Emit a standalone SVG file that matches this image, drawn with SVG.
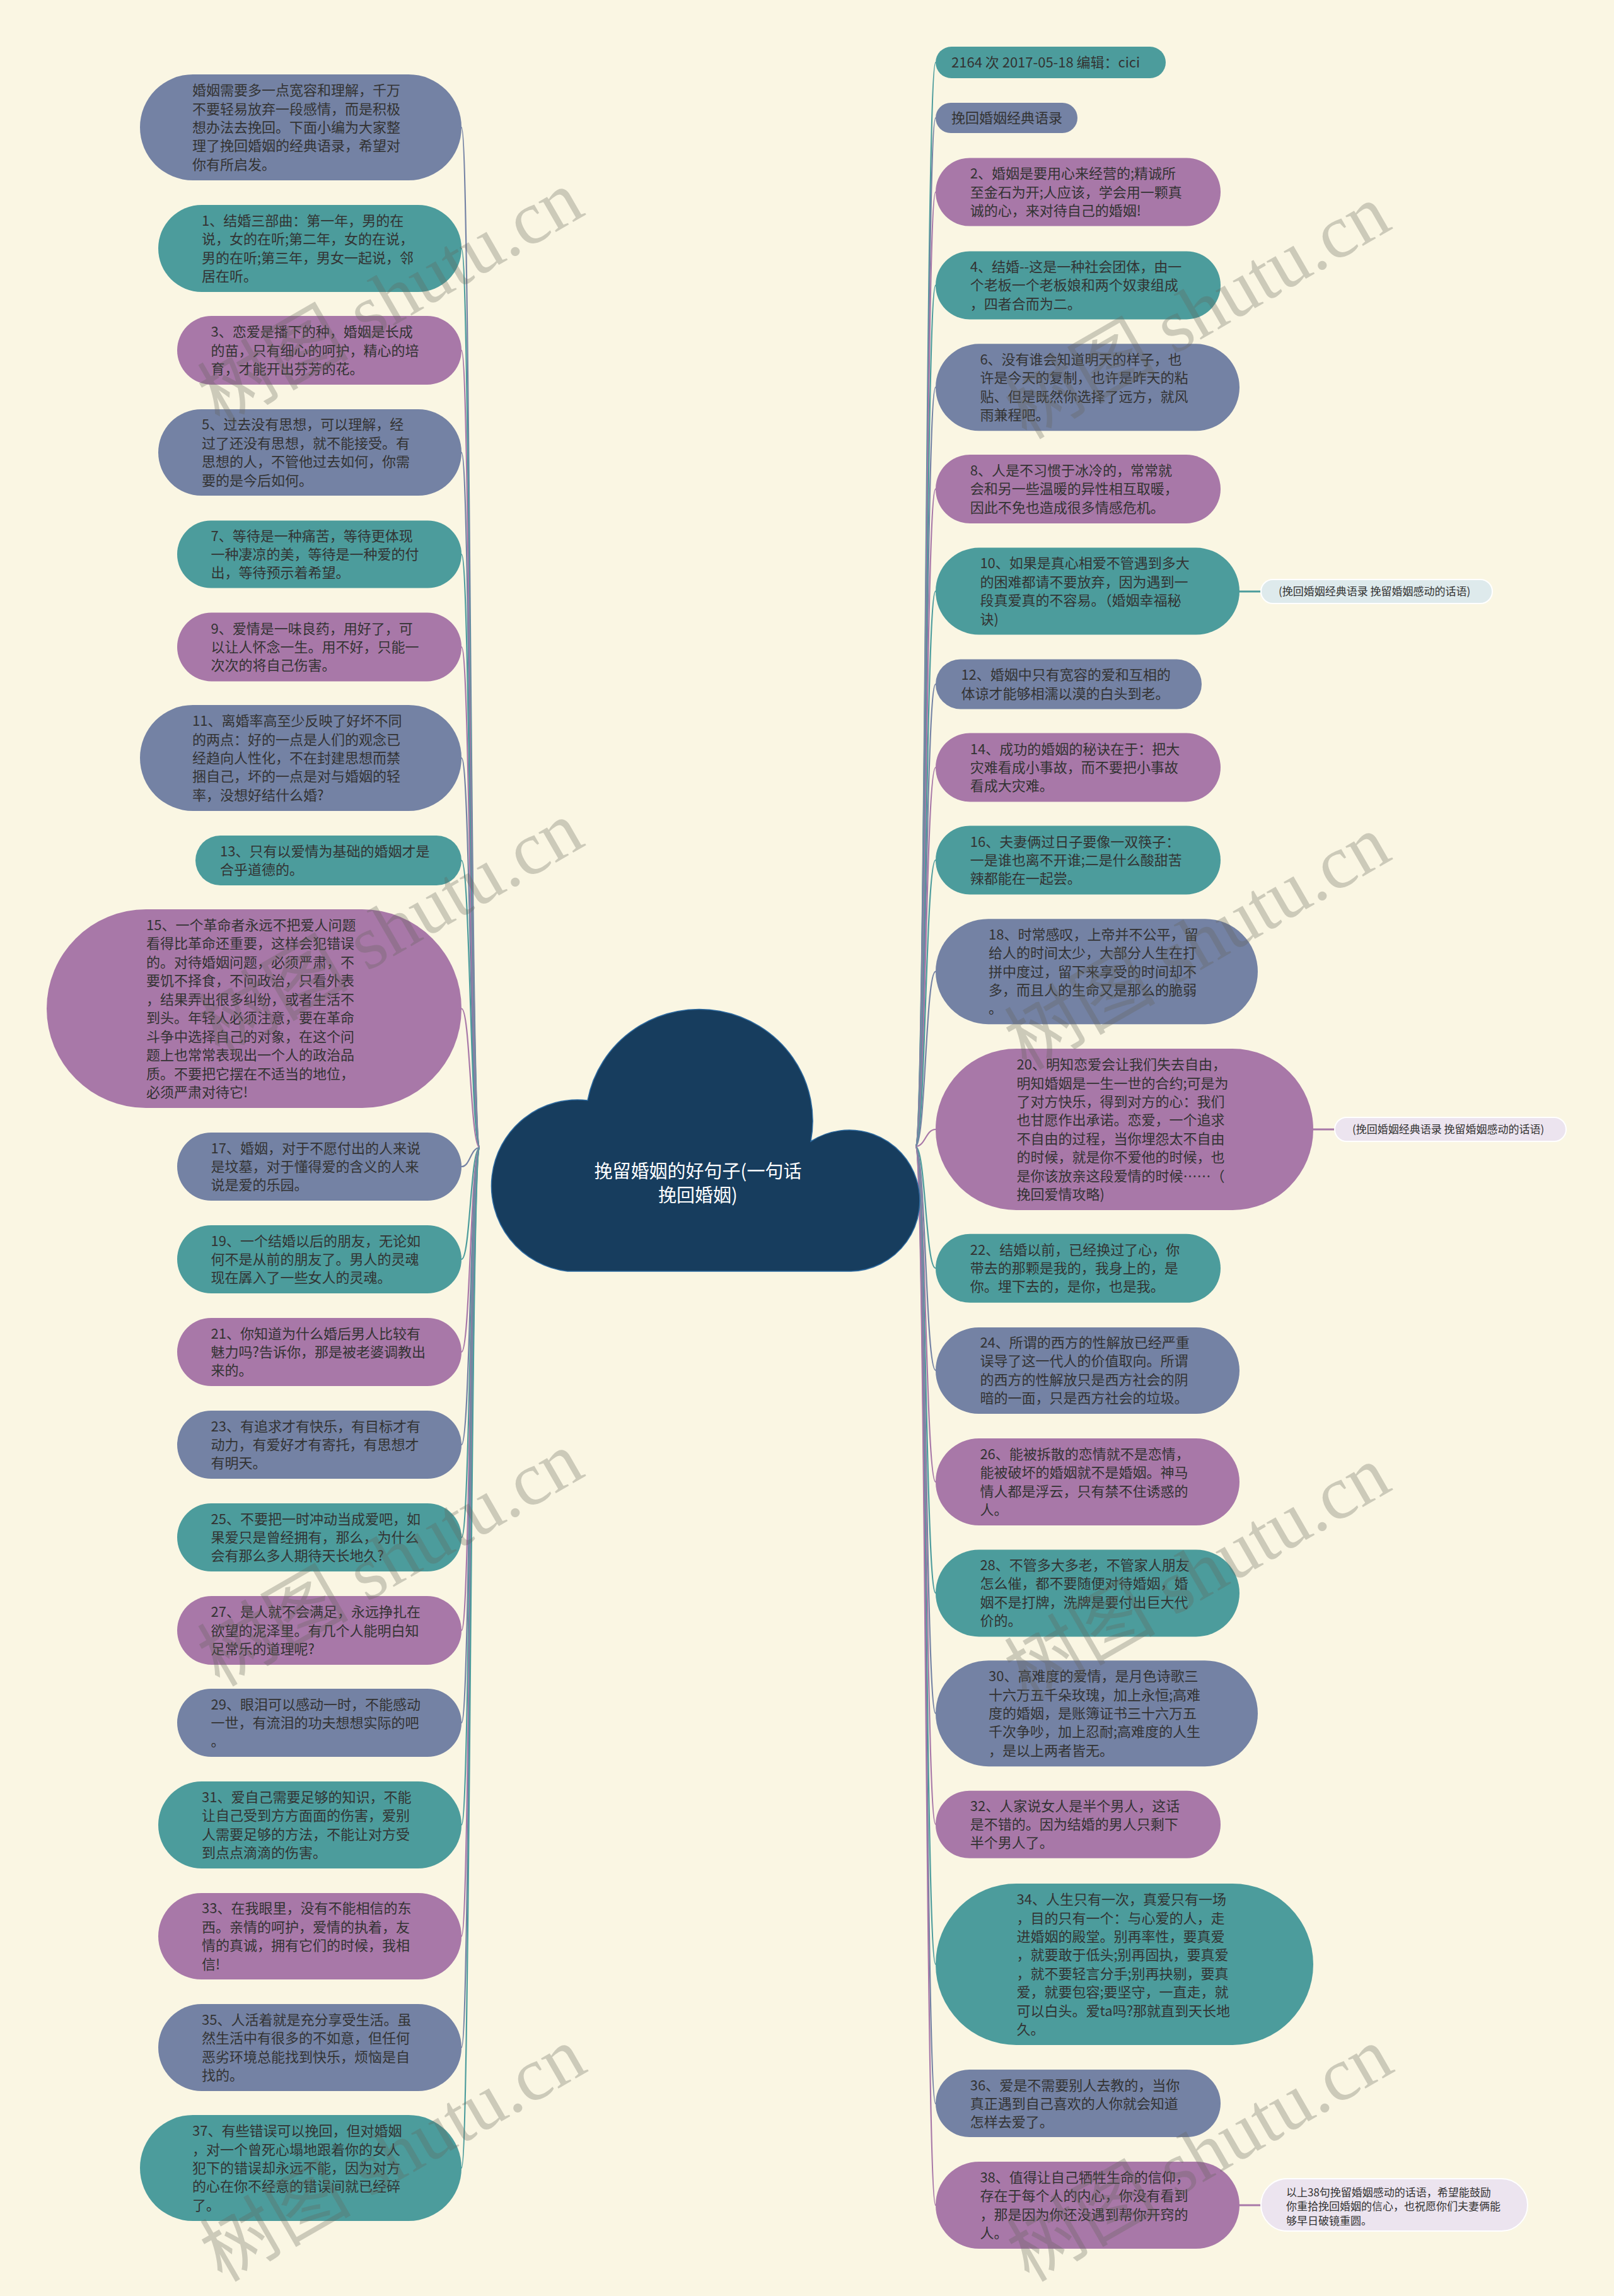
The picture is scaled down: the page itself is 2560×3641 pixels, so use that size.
<svg xmlns="http://www.w3.org/2000/svg" width="2560" height="3641" viewBox="0 0 2560 3641">
<style>
.bg{fill:#faf6e3}
.s{fill:#7482a4}
.t{fill:#4c9c9c}
.p{fill:#a878a8}
.cs{stroke:#7482a4}
.ct{stroke:#4c9c9c}
.cp{stroke:#a878a8}
.conn path{fill:none;stroke-width:2.2}
.conn line{stroke-width:3}
text{font-family:"Noto Sans CJK SC","Liberation Sans",sans-serif}
.tx{font-size:22px;fill:#333333}
.lb{font-size:17px;fill:#333333}
.ttl{font-size:29px;fill:#ffffff;text-anchor:middle}
.wm text{font-family:"Liberation Serif","Noto Sans CJK SC",serif;font-size:120px;fill:rgba(100,100,90,0.3)}
.lab1{fill:#deeaec;stroke:#ffffff;stroke-width:2}
.lab2{fill:#ece4ef;stroke:#ffffff;stroke-width:2}
</style>
<rect class="bg" x="0" y="0" width="2560" height="3641"/>

<g id="connectors" class="conn">
<path class="cs" d="M761 1820 C746 1820 746 202 732 202"/>
<path class="ct" d="M761 1820 C746 1820 746 394 732 394"/>
<path class="cp" d="M761 1820 C746 1820 746 555.5 732 555.5"/>
<path class="cs" d="M761 1820 C746 1820 746 717.5 732 717.5"/>
<path class="ct" d="M761 1820 C746 1820 746 879 732 879"/>
<path class="cp" d="M761 1820 C746 1820 746 1026 732 1026"/>
<path class="cs" d="M761 1820 C746 1820 746 1202 732 1202"/>
<path class="ct" d="M761 1820 C746 1820 746 1364.5 732 1364.5"/>
<path class="cp" d="M761 1820 C746 1820 746 1599.5 732 1599.5"/>
<path class="cs" d="M761 1820 C746 1820 746 1850 732 1850"/>
<path class="ct" d="M761 1820 C746 1820 746 1997 732 1997"/>
<path class="cp" d="M761 1820 C746 1820 746 2144 732 2144"/>
<path class="cs" d="M761 1820 C746 1820 746 2291 732 2291"/>
<path class="ct" d="M761 1820 C746 1820 746 2438 732 2438"/>
<path class="cp" d="M761 1820 C746 1820 746 2585.5 732 2585.5"/>
<path class="cs" d="M761 1820 C746 1820 746 2732 732 2732"/>
<path class="ct" d="M761 1820 C746 1820 746 2894 732 2894"/>
<path class="cp" d="M761 1820 C746 1820 746 3070.5 732 3070.5"/>
<path class="cs" d="M761 1820 C746 1820 746 3247 732 3247"/>
<path class="ct" d="M761 1820 C746 1820 746 3438 732 3438"/>

<path class="ct" d="M1452 1818 C1468 1818 1468 99 1484 99"/>
<path class="cs" d="M1452 1818 C1468 1818 1468 187 1484 187"/>
<path class="cp" d="M1452 1818 C1468 1818 1468 304.5 1484 304.5"/>
<path class="ct" d="M1452 1818 C1468 1818 1468 452.4 1484 452.4"/>
<path class="cs" d="M1452 1818 C1468 1818 1468 614 1484 614"/>
<path class="cp" d="M1452 1818 C1468 1818 1468 775.3 1484 775.3"/>
<path class="ct" d="M1452 1818 C1468 1818 1468 937.5 1484 937.5"/>
<path class="cs" d="M1452 1818 C1468 1818 1468 1085 1484 1085"/>
<path class="cp" d="M1452 1818 C1468 1818 1468 1217 1484 1217"/>
<path class="ct" d="M1452 1818 C1468 1818 1468 1364 1484 1364"/>
<path class="cs" d="M1452 1818 C1468 1818 1468 1540.6 1484 1540.6"/>
<path class="cp" d="M1452 1818 C1468 1818 1468 1791 1484 1791"/>
<path class="ct" d="M1452 1818 C1468 1818 1468 2011 1484 2011"/>
<path class="cs" d="M1452 1818 C1468 1818 1468 2173 1484 2173"/>
<path class="cp" d="M1452 1818 C1468 1818 1468 2350 1484 2350"/>
<path class="ct" d="M1452 1818 C1468 1818 1468 2526 1484 2526"/>
<path class="cs" d="M1452 1818 C1468 1818 1468 2717 1484 2717"/>
<path class="cp" d="M1452 1818 C1468 1818 1468 2893 1484 2893"/>
<path class="ct" d="M1452 1818 C1468 1818 1468 3115 1484 3115"/>
<path class="cs" d="M1452 1818 C1468 1818 1468 3336 1484 3336"/>
<path class="cp" d="M1452 1818 C1468 1818 1468 3497 1484 3497"/>

<line class="ct" x1="1965" y1="938" x2="2001" y2="938"/>
<line class="cp" x1="2082" y1="1791" x2="2118" y2="1791"/>
<line class="cp" x1="1965" y1="3497" x2="2001" y2="3497"/>
</g>

<g id="center">
<path d="M900 2016 A136 136 0 1 1 932 1745 A178 175 0 0 1 1286 1810 A112 112 0 1 1 1350 2016 Z" fill="#173d5e" stroke="#2d6aa0" stroke-width="1.5"/>
<text class="ttl"><tspan x="1107" y="1868">挽留婚姻的好句子(一句话</tspan><tspan x="1107" y="1906">挽回婚姻)</tspan></text>
</g>

<g id="n0"><rect class="s" x="222" y="118" width="510" height="168" rx="84"/>
<text class="tx"><tspan x="305" y="151">婚姻需要多一点宽容和理解，千万</tspan><tspan x="305" y="181">不要轻易放弃一段感情，而是积极</tspan><tspan x="305" y="210">想办法去挽回。下面小编为大家整</tspan><tspan x="305" y="239">理了挽回婚姻的经典语录，希望对</tspan><tspan x="305" y="269">你有所启发。</tspan></text></g>

<g id="n1"><rect class="t" x="251" y="325" width="481" height="138" rx="69"/>
<text class="tx"><tspan x="320" y="358">1、结婚三部曲：第一年，男的在</tspan><tspan x="320" y="387">说，女的在听;第二年，女的在说，</tspan><tspan x="320" y="417">男的在听;第三年，男女一起说，邻</tspan><tspan x="320" y="446">居在听。</tspan></text></g>

<g id="n3"><rect class="p" x="281" y="501" width="451" height="109" rx="54.5"/>
<text class="tx"><tspan x="334.5" y="534">3、恋爱是播下的种，婚姻是长成</tspan><tspan x="334.5" y="564">的苗，只有细心的呵护，精心的培</tspan><tspan x="334.5" y="593">育，才能开出芬芳的花。</tspan></text></g>

<g id="n5"><rect class="s" x="251" y="649" width="481" height="137" rx="68.5"/>
<text class="tx"><tspan x="320" y="681">5、过去没有思想，可以理解，经</tspan><tspan x="320" y="711">过了还没有思想，就不能接受。有</tspan><tspan x="320" y="740">思想的人，不管他过去如何，你需</tspan><tspan x="320" y="770">要的是今后如何。</tspan></text></g>

<g id="n7"><rect class="t" x="281" y="825.5" width="451" height="107" rx="53.5"/>
<text class="tx"><tspan x="334.5" y="858">7、等待是一种痛苦，等待更体现</tspan><tspan x="334.5" y="887">一种凄凉的美，等待是一种爱的付</tspan><tspan x="334.5" y="916">出，等待预示着希望。</tspan></text></g>

<g id="n9"><rect class="p" x="281" y="971.5" width="451" height="109" rx="54.5"/>
<text class="tx"><tspan x="334.5" y="1005">9、爱情是一味良药，用好了，可</tspan><tspan x="334.5" y="1034">以让人怀念一生。用不好，只能一</tspan><tspan x="334.5" y="1063">次次的将自己伤害。</tspan></text></g>

<g id="n11"><rect class="s" x="222" y="1118" width="510" height="168" rx="84"/>
<text class="tx"><tspan x="305" y="1151">11、离婚率高至少反映了好坏不同</tspan><tspan x="305" y="1181">的两点：好的一点是人们的观念已</tspan><tspan x="305" y="1210">经趋向人性化，不在封建思想而禁</tspan><tspan x="305" y="1239">捆自己，坏的一点是对与婚姻的轻</tspan><tspan x="305" y="1269">率，没想好结什么婚?</tspan></text></g>

<g id="n13"><rect class="t" x="310" y="1325" width="422" height="79" rx="39.5"/>
<text class="tx"><tspan x="349" y="1358">13、只有以爱情为基础的婚姻才是</tspan><tspan x="349" y="1387">合乎道德的。</tspan></text></g>

<g id="n15"><rect class="p" x="74" y="1442" width="658" height="315" rx="157.5"/>
<text class="tx"><tspan x="232" y="1475">15、一个革命者永远不把爱人问题</tspan><tspan x="232" y="1504">看得比革命还重要，这样会犯错误</tspan><tspan x="232" y="1534">的。对待婚姻问题，必须严肃，不</tspan><tspan x="232" y="1563">要饥不择食，不问政治，只看外表</tspan><tspan x="232" y="1593">，结果弄出很多纠纷，或者生活不</tspan><tspan x="232" y="1622">到头。年轻人必须注意，要在革命</tspan><tspan x="232" y="1652">斗争中选择自己的对象，在这个问</tspan><tspan x="232" y="1681">题上也常常表现出一个人的政治品</tspan><tspan x="232" y="1711">质。不要把它摆在不适当的地位，</tspan><tspan x="232" y="1740">必须严肃对待它!</tspan></text></g>

<g id="n17"><rect class="s" x="281" y="1796" width="451" height="108" rx="54"/>
<text class="tx"><tspan x="334.5" y="1829">17、婚姻，对于不愿付出的人来说</tspan><tspan x="334.5" y="1858">是坟墓，对于懂得爱的含义的人来</tspan><tspan x="334.5" y="1887">说是爱的乐园。</tspan></text></g>

<g id="n19"><rect class="t" x="281" y="1943" width="451" height="108" rx="54"/>
<text class="tx"><tspan x="334.5" y="1976">19、一个结婚以后的朋友，无论如</tspan><tspan x="334.5" y="2005">何不是从前的朋友了。男人的灵魂</tspan><tspan x="334.5" y="2034">现在羼入了一些女人的灵魂。</tspan></text></g>

<g id="n21"><rect class="p" x="281" y="2090" width="451" height="108" rx="54"/>
<text class="tx"><tspan x="334.5" y="2123">21、你知道为什么婚后男人比较有</tspan><tspan x="334.5" y="2152">魅力吗?告诉你，那是被老婆调教出</tspan><tspan x="334.5" y="2181">来的。</tspan></text></g>

<g id="n23"><rect class="s" x="281" y="2237" width="451" height="108" rx="54"/>
<text class="tx"><tspan x="334.5" y="2270">23、有追求才有快乐，有目标才有</tspan><tspan x="334.5" y="2299">动力，有爱好才有寄托，有思想才</tspan><tspan x="334.5" y="2328">有明天。</tspan></text></g>

<g id="n25"><rect class="t" x="281" y="2384" width="451" height="108" rx="54"/>
<text class="tx"><tspan x="334.5" y="2417">25、不要把一时冲动当成爱吧，如</tspan><tspan x="334.5" y="2446">果爱只是曾经拥有，那么，为什么</tspan><tspan x="334.5" y="2475">会有那么多人期待天长地久?</tspan></text></g>

<g id="n27"><rect class="p" x="281" y="2531" width="451" height="109" rx="54.5"/>
<text class="tx"><tspan x="334.5" y="2564">27、是人就不会满足，永远挣扎在</tspan><tspan x="334.5" y="2594">欲望的泥泽里。有几个人能明白知</tspan><tspan x="334.5" y="2623">足常乐的道理呢?</tspan></text></g>

<g id="n29"><rect class="s" x="281" y="2678" width="451" height="108" rx="54"/>
<text class="tx"><tspan x="334.5" y="2711">29、眼泪可以感动一时，不能感动</tspan><tspan x="334.5" y="2740">一世，有流泪的功夫想想实际的吧</tspan><tspan x="334.5" y="2769">。</tspan></text></g>

<g id="n31"><rect class="t" x="251" y="2825" width="481" height="138" rx="69"/>
<text class="tx"><tspan x="320" y="2858">31、爱自己需要足够的知识，不能</tspan><tspan x="320" y="2887">让自己受到方方面面的伤害，爱别</tspan><tspan x="320" y="2917">人需要足够的方法，不能让对方受</tspan><tspan x="320" y="2946">到点点滴滴的伤害。</tspan></text></g>

<g id="n33"><rect class="p" x="251" y="3002" width="481" height="137" rx="68.5"/>
<text class="tx"><tspan x="320" y="3034">33、在我眼里，没有不能相信的东</tspan><tspan x="320" y="3064">西。亲情的呵护，爱情的执着，友</tspan><tspan x="320" y="3093">情的真诚，拥有它们的时候，我相</tspan><tspan x="320" y="3123">信!</tspan></text></g>

<g id="n35"><rect class="s" x="251" y="3178" width="481" height="138" rx="69"/>
<text class="tx"><tspan x="320" y="3211">35、人活着就是充分享受生活。虽</tspan><tspan x="320" y="3240">然生活中有很多的不如意，但任何</tspan><tspan x="320" y="3270">恶劣环境总能找到快乐，烦恼是自</tspan><tspan x="320" y="3299">找的。</tspan></text></g>

<g id="n37"><rect class="t" x="222" y="3354" width="510" height="168" rx="84"/>
<text class="tx"><tspan x="305" y="3387">37、有些错误可以挽回，但对婚姻</tspan><tspan x="305" y="3417">，对一个曾死心塌地跟着你的女人</tspan><tspan x="305" y="3446">犯下的错误却永远不能，因为对方</tspan><tspan x="305" y="3475">的心在你不经意的错误间就已经碎</tspan><tspan x="305" y="3505">了。</tspan></text></g>

<g id="meta"><rect class="t" x="1484" y="74" width="365" height="50" rx="25"/>
<text class="tx" x="1509" y="107">2164 次 2017-05-18 编辑：cici</text></g>

<g id="title"><rect class="s" x="1484" y="163" width="225" height="48" rx="24"/>
<text class="tx" x="1509" y="195">挽回婚姻经典语录</text></g>

<g id="n2"><rect class="p" x="1484" y="250.5" width="452" height="108" rx="54"/>
<text class="tx"><tspan x="1538.75" y="283">2、婚姻是要用心来经营的;精诚所</tspan><tspan x="1538.75" y="313">至金石为开;人应该，学会用一颗真</tspan><tspan x="1538.75" y="342">诚的心，来对待自己的婚姻!</tspan></text></g>

<g id="n4"><rect class="t" x="1484" y="398.4" width="452" height="108" rx="54"/>
<text class="tx"><tspan x="1538.75" y="431">4、结婚--这是一种社会团体，由一</tspan><tspan x="1538.75" y="460">个老板一个老板娘和两个奴隶组成</tspan><tspan x="1538.75" y="490">，四者合而为二。</tspan></text></g>

<g id="n6"><rect class="s" x="1484" y="545.3" width="482" height="138" rx="69"/>
<text class="tx"><tspan x="1554.4" y="578">6、没有谁会知道明天的样子，也</tspan><tspan x="1554.4" y="607">许是今天的复制，也许是昨天的粘</tspan><tspan x="1554.4" y="637">贴、但是既然你选择了远方，就风</tspan><tspan x="1554.4" y="666">雨兼程吧。</tspan></text></g>

<g id="n8"><rect class="p" x="1484" y="721" width="452" height="109" rx="54.5"/>
<text class="tx"><tspan x="1538.75" y="754">8、人是不习惯于冰冷的，常常就</tspan><tspan x="1538.75" y="783">会和另一些温暖的异性相互取暖，</tspan><tspan x="1538.75" y="813">因此不免也造成很多情感危机。</tspan></text></g>

<g id="n10"><rect class="t" x="1484" y="868.6" width="482" height="138" rx="69"/>
<text class="tx"><tspan x="1554.4" y="901">10、如果是真心相爱不管遇到多大</tspan><tspan x="1554.4" y="931">的困难都请不要放弃，因为遇到一</tspan><tspan x="1554.4" y="960">段真爱真的不容易。（婚姻幸福秘</tspan><tspan x="1554.4" y="990">诀)</tspan></text></g>

<g id="label1"><rect class="lab1" x="2000" y="919" width="367" height="38" rx="19"/>
<text class="lb" x="2028" y="944">(挽回婚姻经典语录 挽留婚姻感动的话语)</text></g>

<g id="n12"><rect class="s" x="1484" y="1045.4" width="422" height="79" rx="39.5"/>
<text class="tx"><tspan x="1524.4" y="1078">12、婚姻中只有宽容的爱和互相的</tspan><tspan x="1524.4" y="1108">体谅才能够相濡以漠的白头到老。</tspan></text></g>

<g id="n14"><rect class="p" x="1484" y="1162.5" width="452" height="109" rx="54.5"/>
<text class="tx"><tspan x="1538.75" y="1196">14、成功的婚姻的秘诀在于：把大</tspan><tspan x="1538.75" y="1225">灾难看成小事故，而不要把小事故</tspan><tspan x="1538.75" y="1254">看成大灾难。</tspan></text></g>

<g id="n16"><rect class="t" x="1484" y="1309.4" width="452" height="109" rx="54.5"/>
<text class="tx"><tspan x="1538.75" y="1343">16、夫妻俩过日子要像一双筷子：</tspan><tspan x="1538.75" y="1372">一是谁也离不开谁;二是什么酸甜苦</tspan><tspan x="1538.75" y="1401">辣都能在一起尝。</tspan></text></g>

<g id="n18"><rect class="s" x="1484" y="1457.2" width="511" height="167" rx="83.5"/>
<text class="tx"><tspan x="1568" y="1490">18、时常感叹，上帝并不公平，留</tspan><tspan x="1568" y="1519">给人的时间太少，大部分人生在打</tspan><tspan x="1568" y="1549">拼中度过，留下来享受的时间却不</tspan><tspan x="1568" y="1578">多，而且人的生命又是那么的脆弱</tspan><tspan x="1568" y="1607">。</tspan></text></g>

<g id="n20"><rect class="p" x="1484" y="1663" width="599" height="256" rx="128"/>
<text class="tx"><tspan x="1612.5" y="1696">20、明知恋爱会让我们失去自由，</tspan><tspan x="1612.5" y="1726">明知婚姻是一生一世的合约;可是为</tspan><tspan x="1612.5" y="1755">了对方快乐，得到对方的心：我们</tspan><tspan x="1612.5" y="1784">也甘愿作出承诺。恋爱，一个追求</tspan><tspan x="1612.5" y="1814">不自由的过程，当你埋怨太不自由</tspan><tspan x="1612.5" y="1843">的时候，就是你不爱他的时候，也</tspan><tspan x="1612.5" y="1873">是你该放亲这段爱情的时候……（</tspan><tspan x="1612.5" y="1902">挽回爱情攻略)</tspan></text></g>

<g id="label2"><rect class="lab2" x="2117" y="1772" width="367" height="38" rx="19"/>
<text class="lb" x="2145" y="1797">(挽回婚姻经典语录 挽留婚姻感动的话语)</text></g>

<g id="n22"><rect class="t" x="1484" y="1956.8" width="452" height="109" rx="54.5"/>
<text class="tx"><tspan x="1538.75" y="1990">22、结婚以前，已经换过了心，你</tspan><tspan x="1538.75" y="2019">带去的那颗是我的，我身上的，是</tspan><tspan x="1538.75" y="2048">你。埋下去的，是你，也是我。</tspan></text></g>

<g id="n24"><rect class="s" x="1484" y="2105" width="482" height="137" rx="68.5"/>
<text class="tx"><tspan x="1554.4" y="2137">24、所谓的西方的性解放已经严重</tspan><tspan x="1554.4" y="2166">误导了这一代人的价值取向。所谓</tspan><tspan x="1554.4" y="2196">的西方的性解放只是西方社会的阴</tspan><tspan x="1554.4" y="2225">暗的一面，只是西方社会的垃圾。</tspan></text></g>

<g id="n26"><rect class="p" x="1484" y="2281" width="482" height="138" rx="69"/>
<text class="tx"><tspan x="1554.4" y="2314">26、能被拆散的恋情就不是恋情，</tspan><tspan x="1554.4" y="2343">能被破坏的婚姻就不是婚姻。神马</tspan><tspan x="1554.4" y="2373">情人都是浮云，只有禁不住诱惑的</tspan><tspan x="1554.4" y="2402">人。</tspan></text></g>

<g id="n28"><rect class="t" x="1484" y="2457.4" width="482" height="138" rx="69"/>
<text class="tx"><tspan x="1554.4" y="2490">28、不管多大多老，不管家人朋友</tspan><tspan x="1554.4" y="2519">怎么催，都不要随便对待婚姻，婚</tspan><tspan x="1554.4" y="2549">姻不是打牌，洗牌是要付出巨大代</tspan><tspan x="1554.4" y="2578">价的。</tspan></text></g>

<g id="n30"><rect class="s" x="1484" y="2633.2" width="511" height="168" rx="84"/>
<text class="tx"><tspan x="1568" y="2666">30、高难度的爱情，是月色诗歌三</tspan><tspan x="1568" y="2696">十六万五千朵玫瑰，加上永恒;高难</tspan><tspan x="1568" y="2725">度的婚姻，是账簿证书三十六万五</tspan><tspan x="1568" y="2754">千次争吵，加上忍耐;高难度的人生</tspan><tspan x="1568" y="2784">，是以上两者皆无。</tspan></text></g>

<g id="n32"><rect class="p" x="1484" y="2839.8" width="452" height="107" rx="53.5"/>
<text class="tx"><tspan x="1538.75" y="2872">32、人家说女人是半个男人，这话</tspan><tspan x="1538.75" y="2901">是不错的。因为结婚的男人只剩下</tspan><tspan x="1538.75" y="2930">半个男人了。</tspan></text></g>

<g id="n34"><rect class="t" x="1484" y="2987" width="599" height="256" rx="128"/>
<text class="tx"><tspan x="1612.5" y="3020">34、人生只有一次，真爱只有一场</tspan><tspan x="1612.5" y="3050">，目的只有一个：与心爱的人，走</tspan><tspan x="1612.5" y="3079">进婚姻的殿堂。别再率性，要真爱</tspan><tspan x="1612.5" y="3108">，就要敢于低头;别再固执，要真爱</tspan><tspan x="1612.5" y="3138">，就不要轻言分手;别再抉剔，要真</tspan><tspan x="1612.5" y="3167">爱，就要包容;要坚守，一直走，就</tspan><tspan x="1612.5" y="3197">可以白头。爱ta吗?那就直到天长地</tspan><tspan x="1612.5" y="3226">久。</tspan></text></g>

<g id="n36"><rect class="s" x="1484" y="3282" width="452" height="107" rx="53.5"/>
<text class="tx"><tspan x="1538.75" y="3315">36、爱是不需要别人去教的，当你</tspan><tspan x="1538.75" y="3344">真正遇到自己喜欢的人你就会知道</tspan><tspan x="1538.75" y="3373">怎样去爱了。</tspan></text></g>

<g id="n38"><rect class="p" x="1484" y="3428" width="482" height="138" rx="69"/>
<text class="tx"><tspan x="1554.4" y="3461">38、值得让自己牺牲生命的信仰，</tspan><tspan x="1554.4" y="3490">存在于每个人的内心，你没有看到</tspan><tspan x="1554.4" y="3520">，那是因为你还没遇到帮你开窍的</tspan><tspan x="1554.4" y="3549">人。</tspan></text></g>

<g id="label3"><rect class="lab2" x="2000" y="3455" width="423" height="83" rx="41.5"/>
<text class="lb"><tspan x="2040" y="3483">以上38句挽留婚姻感动的话语，希望能鼓励</tspan><tspan x="2040" y="3505">你重拾挽回婚姻的信心，也祝愿你们夫妻俩能</tspan><tspan x="2040" y="3528">够早日破镜重圆。</tspan></text></g>

<g class="wm">
<text transform="translate(348 676) rotate(-30)">树图 shutu.cn</text>
<text transform="translate(1628 698) rotate(-30)">树图 shutu.cn</text>
<text transform="translate(348 1676) rotate(-30)">树图 shutu.cn</text>
<text transform="translate(1628 1698) rotate(-30)">树图 shutu.cn</text>
<text transform="translate(348 2676) rotate(-30)">树图 shutu.cn</text>
<text transform="translate(1628 2698) rotate(-30)">树图 shutu.cn</text>
<text transform="translate(352 3620) rotate(-30)">树图 shutu.cn</text>
<text transform="translate(1632 3620) rotate(-30)">树图 shutu.cn</text>
</g>
</svg>
